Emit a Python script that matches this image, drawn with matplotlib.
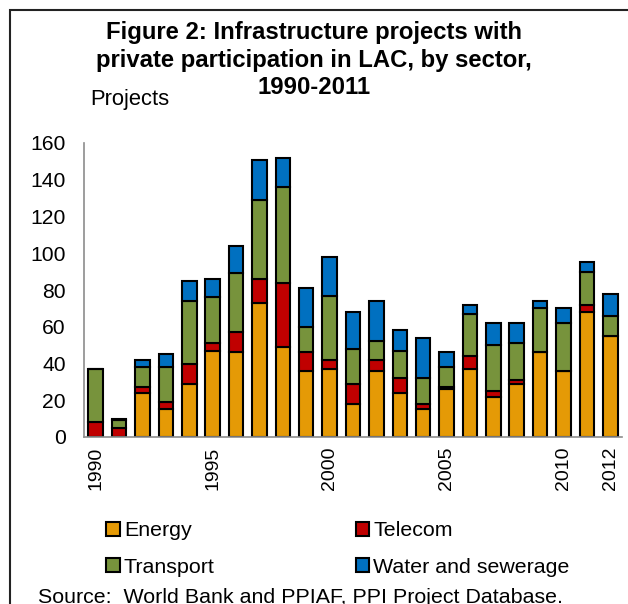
import matplotlib
matplotlib.use("Agg")
import matplotlib.pyplot as plt
from matplotlib.patches import Rectangle, Patch
import numpy as np

plt.rcParams['font.family'] = ['Liberation Sans', 'DejaVu Sans']

years = list(range(1990, 2013))
energy = [0, 0, 24, 15, 29, 47, 46, 73, 49, 36, 37, 18, 36, 24, 15, 26, 37, 22, 29, 46, 36, 68, 55]
telecom = [8, 5, 3, 4, 11, 4, 11, 13, 35, 10, 5, 11, 6, 8, 3, 1, 7, 3, 2, 0, 0, 4, 0]
transport = [29, 4, 11, 19, 34, 25, 32, 43, 52, 14, 35, 19, 10, 15, 14, 11, 23, 25, 20, 24, 26, 18, 11]
water = [0, 1, 4, 7, 11, 10, 15, 22, 16, 21, 21, 20, 22, 11, 22, 8, 5, 12, 11, 4, 8, 5, 12]
labeled_years = [1990, 1995, 2000, 2005, 2010, 2012]

sectors = ["Energy", "Telecom", "Transport", "Water and sewerage"]
colors = ["#E59A06", "#C00000", "#77933C", "#0070C0"]

fig = plt.figure(figsize=(6.28, 6.04), dpi=100)
ax = fig.add_axes([84/628, 1-437/604, (622-84)/628, (437-143)/604])

x = np.arange(len(years))
bottom = np.zeros(len(years))
for vals, c, name in zip([energy, telecom, transport, water], colors, sectors):
    ax.bar(x, vals, width=0.62, bottom=bottom, color=c, edgecolor="black",
           linewidth=1.5, label=name)
    bottom += np.array(vals)

ax.set_xlim(-0.5, len(years) - 0.5)
ax.set_ylim(0, 160)
ax.set_yticks(range(0, 161, 20))
ax.set_xticks([years.index(y) for y in labeled_years])
ax.set_xticklabels([str(y) for y in labeled_years], rotation=90, fontsize=14)
ax.tick_params(axis="y", length=0, pad=13, labelsize=15.2)
ax.tick_params(axis="x", length=0, pad=7)
for s in ["top", "right"]:
    ax.spines[s].set_visible(False)
for s in ["left", "bottom"]:
    ax.spines[s].set_color("#8C8C8C")
    ax.spines[s].set_linewidth(1.2)

fig.text(0.5, 1-60/604, "Figure 2: Infrastructure projects with\nprivate participation in LAC, by sector,\n1990-2011",
         ha="center", va="center", fontsize=17.2, fontweight="bold", linespacing=1.24)
fig.text(90/628, 1-100/604, "Projects", ha="left", va="center", fontsize=15.8)

# row-major order like the original: Energy, Telecom / Transport, Water
order = [0, 2, 1, 3]
handles = [Patch(facecolor=colors[i], edgecolor="black", linewidth=1.5) for i in order]
labels = [sectors[i] for i in order]
fig.legend(handles, labels, loc="center", bbox_to_anchor=(338/628, 1-549/604), ncol=2,
           frameon=False, fontsize=15.4, handlelength=0.62, handleheight=0.62,
           handletextpad=0.2, columnspacing=6.6, labelspacing=0.8)

fig.text(38/628, 1-588/604, "Source:  World Bank and PPIAF, PPI Project Database.",
         ha="left", va="top", fontsize=15.4)

fig.patches.append(Rectangle((10/628, -0.2), 1.2, 1.2 - 10/604, transform=fig.transFigure,
                             fill=False, edgecolor="#222222", linewidth=1.5))

fig.savefig("out.png", dpi=100)
